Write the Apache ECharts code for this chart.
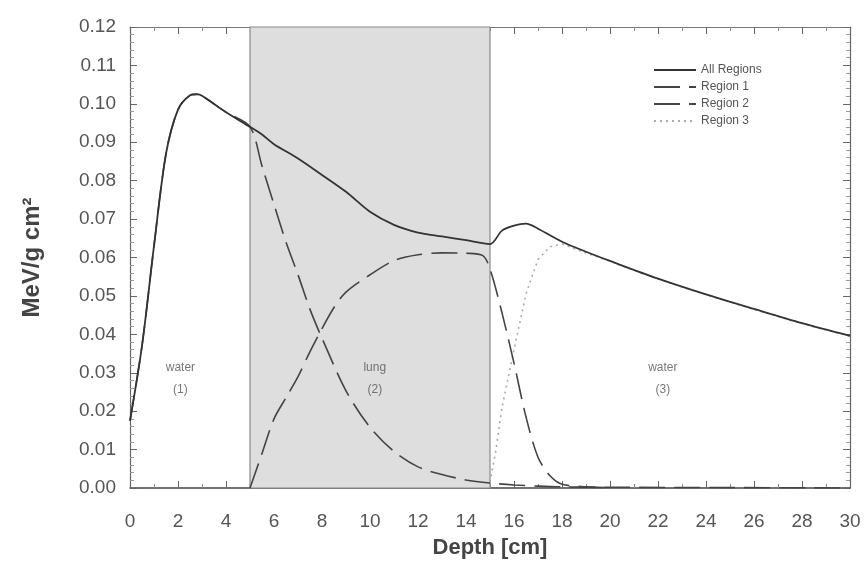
<!DOCTYPE html>
<html>
<head>
<meta charset="utf-8">
<script src="https://cdn.jsdelivr.net/npm/echarts@6/dist/echarts.min.js"></script>
<style>
html,body{margin:0;padding:0;background:#fff;}
#chart{width:867px;height:572px;}
</style>
</head>
<body>
<div id="chart"></div>
<script>
// ---- data ----
var totalDepth = [0, 0.5, 1, 1.5, 2, 2.5, 2.8, 3, 4, 5, 5.5, 6, 7, 8, 9, 10, 11, 12, 13, 14, 15, 15.5, 16, 16.5, 17, 18, 19, 20, 22, 24, 26, 28, 30];
var totalDose  = [0.0175, 0.037, 0.063, 0.087, 0.0985, 0.1022, 0.1025, 0.1021, 0.0978, 0.094, 0.092, 0.0895, 0.0858, 0.0815, 0.0771, 0.0719, 0.0685, 0.0665, 0.0655, 0.0645, 0.0635, 0.067, 0.0683, 0.0688, 0.0675, 0.0641, 0.0615, 0.0591, 0.0545, 0.0504, 0.0466, 0.0429, 0.0396];

var r1Depth = [0, 0.5, 1, 1.5, 2, 2.5, 2.8, 3, 4, 5, 5.5, 6, 6.5, 7, 7.5, 8, 9, 10, 11, 12, 13, 14, 15, 16, 17, 18, 20, 25, 30];
var r1Dose  = [0.0175, 0.037, 0.063, 0.087, 0.0985, 0.1022, 0.1025, 0.1021, 0.0978, 0.094, 0.0838, 0.0738, 0.064, 0.0555, 0.0465, 0.039, 0.0253, 0.0158, 0.0095, 0.0055, 0.0035, 0.0021, 0.0013, 0.0008, 0.0005, 0.0003, 0.0002, 0.0001, 0.0];

var r2Depth = [5, 5.5, 6, 6.5, 7, 7.5, 8, 8.5, 9, 10, 11, 12, 13, 14, 14.7, 15, 15.5, 16, 16.5, 17, 17.5, 18, 19, 20];
var r2Dose  = [0.0, 0.009, 0.018, 0.0235, 0.029, 0.0355, 0.0415, 0.047, 0.051, 0.0555, 0.0592, 0.0607, 0.0612, 0.0611, 0.0605, 0.057, 0.0456, 0.0325, 0.0185, 0.008, 0.0032, 0.001, 0.0003, 0.0001];

var r3Depth = [15, 15.25, 15.5, 16, 16.5, 17, 17.5, 18, 19, 20, 22, 24, 26, 28, 30];
var r3Dose  = [0.0015, 0.01, 0.021, 0.036, 0.0505, 0.0595, 0.0628, 0.0635, 0.0612, 0.059, 0.0544, 0.0503, 0.0465, 0.0428, 0.0395];

var lungRange = [5, 15];
var regionLabelX = [2.1, 10.2, 22.2];
var regionLabelY = [0.0285, 0.0285, 0.0285];
var regionLabelText = ['water\n(1)', 'lung\n(2)', 'water\n(3)'];

var xTicks = {min: 0, max: 30, interval: 2};
var yTicks = {min: 0, max: 0.12, interval: 0.01};

// ---- build ----
function pairs(xs, ys){ return xs.map(function(x,i){ return [x, ys[i]]; }); }

var font = 'Liberation Sans, Arial, sans-serif';
var chart = echarts.init(document.getElementById('chart'), null, {renderer:'canvas'});

var baseX = {
  type:'value', min:xTicks.min, max:xTicks.max, interval:xTicks.interval,
  axisLine:{show:true, onZero:false, lineStyle:{color:'#444', width:1.5}},
  axisTick:{show:true, inside:true, length:7, lineStyle:{color:'#666'}},
  minorTick:{show:true, splitNumber:2, length:4, lineStyle:{color:'#888'}},
  splitLine:{show:false}
};
var baseY = {
  type:'value', min:yTicks.min, max:yTicks.max, interval:yTicks.interval,
  axisLine:{show:true, onZero:false, lineStyle:{color:'#666', width:1.2}},
  axisTick:{show:true, inside:true, length:7, lineStyle:{color:'#666'}},
  minorTick:{show:true, splitNumber:5, length:4, lineStyle:{color:'#999'}},
  splitLine:{show:false}
};

var option = {
  backgroundColor:'#ffffff',
  animation:false,
  grid:{left:130, right:17, top:27, bottom:84},
  legend:{
    data:['All Regions','Region 1','Region 2','Region 3'],
    orient:'vertical', left:648, top:59,
    itemWidth:42, itemHeight:12, itemGap:5,
    itemStyle:{opacity:0},
    textStyle:{fontFamily:font, fontSize:12, color:'#555'}
  },
  xAxis:[
    Object.assign({}, baseX, {
      position:'bottom',
      name:'Depth [cm]', nameLocation:'middle', nameGap:49,
      nameTextStyle:{fontFamily:font, fontSize:22, fontWeight:'bold', color:'#444'},
      axisLabel:{fontFamily:font, fontSize:19, color:'#555', margin:24}
    }),
    Object.assign({}, baseX, {position:'top', axisLabel:{show:false},
      axisLine:{show:true, onZero:false, lineStyle:{color:'#777', width:1}}})
  ],
  yAxis:[
    Object.assign({}, baseY, {
      position:'left',
      name:'MeV/g cm²', nameLocation:'middle', nameGap:86,
      nameTextStyle:{fontFamily:font, fontSize:24, fontWeight:'bold', color:'#444'},
      axisLabel:{fontFamily:font, fontSize:19, color:'#555', margin:14,
        formatter:function(v){ return v.toFixed(2); }}
    }),
    Object.assign({}, baseY, {position:'right', axisLabel:{show:false}})
  ],
  series:[
    {
      name:'lung', type:'line', data:[], silent:true, z:1,
      markArea:{
        silent:true,
        itemStyle:{color:'#dedede', borderColor:'#8a8a8a', borderWidth:1.2},
        data:[[{xAxis:lungRange[0]},{xAxis:lungRange[1]}]]
      }
    },
    {
      name:'labels', type:'scatter', symbolSize:0, silent:true, z:3,
      data:regionLabelX.map(function(x,i){ return {value:[x, regionLabelY[i]], name:regionLabelText[i]}; }),
      label:{show:true, position:'inside', formatter:function(p){ return p.name; },
        fontFamily:font, fontSize:12, color:'#555', lineHeight:22, align:'center'}
    },
    {
      name:'Region 3', type:'line', symbol:'none', z:4,
      data:pairs(r3Depth, r3Dose),
      itemStyle:{color:'#aaa'},
      lineStyle:{color:'#aaa', width:1.6, type:[2,4]}
    },
    {
      name:'Region 2', type:'line', symbol:'none', smooth:0.3, z:5,
      data:pairs(r2Depth, r2Dose),
      itemStyle:{color:'#444'},
      lineStyle:{color:'#444', width:1.6, type:[26,9]}
    },
    {
      name:'Region 1', type:'line', symbol:'none', smooth:0.3, z:5,
      data:pairs(r1Depth, r1Dose),
      itemStyle:{color:'#444'},
      lineStyle:{color:'#444', width:1.6, type:[26,9]}
    },
    {
      name:'All Regions', type:'line', symbol:'none', smooth:0.3, z:6,
      data:pairs(totalDepth, totalDose),
      itemStyle:{color:'#333'},
      lineStyle:{color:'#333', width:1.8}
    }
  ]
};
chart.setOption(option);
</script>
</body>
</html>
